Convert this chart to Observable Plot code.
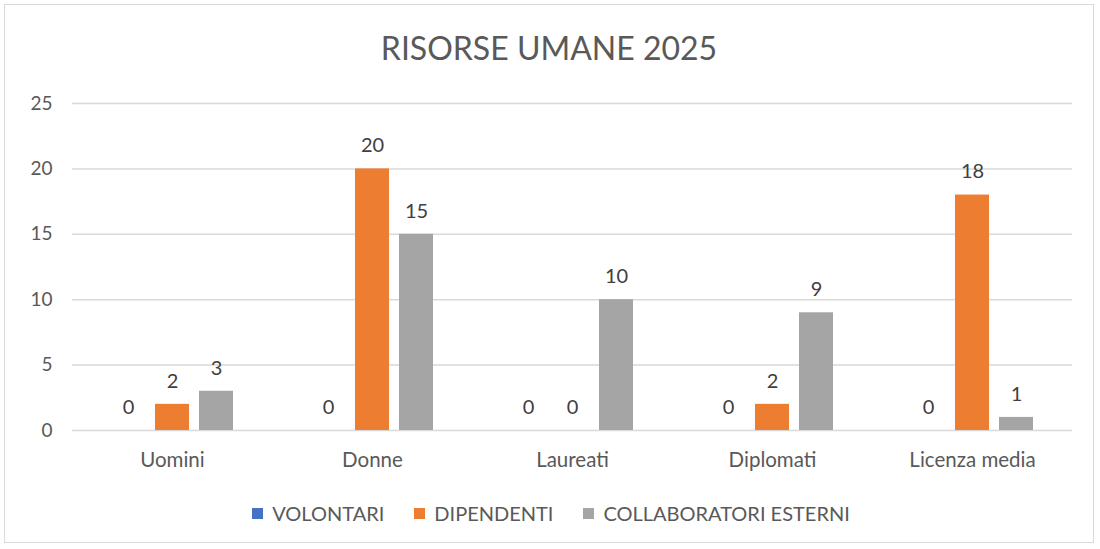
<!DOCTYPE html>
<html>
<head>
<meta charset="utf-8">
<script src="https://cdn.jsdelivr.net/npm/d3@7"></script>
<script src="https://cdn.jsdelivr.net/npm/@observablehq/plot@0.6"></script>
<style>
  html, body { margin: 0; padding: 0; background: #fff; }
  body { font-family: Lato, "Open Sans", sans-serif; }
  #wrap { position: relative; margin: 4px 0 0 4px; width: 1090px; height: 539px; border: 1px solid #d9d9d9; box-sizing: border-box; overflow: hidden; }
  #title { height: 79px; line-height: 86px; text-align: center; font-size: 32px; color: #595959; }
  #chart svg { display: block; }
  #legend { display: flex; justify-content: center; gap: 30px; font-size: 20px; color: #595959; margin-top: 17px; margin-left: 4px; }
  #legend span.item { display: flex; align-items: center; gap: 9px; }
  #legend span.sw { width: 11px; height: 11px; display: inline-block; }
</style>
</head>
<body>
<div id="wrap">
  <div id="title">RISORSE UMANE 2025</div>
  <div id="chart"></div>
  <div id="legend"></div>
</div>
<script>
const categories = ["Uomini", "Donne", "Laureati", "Diplomati", "Licenza media"];
const seriesNames = ["VOLONTARI", "DIPENDENTI", "COLLABORATORI ESTERNI"];
const volontari = [0, 0, 0, 0, 0];
const dipendenti = [2, 20, 0, 2, 18];
const collaboratori = [3, 15, 10, 9, 1];
const colors = ["#4472C4", "#ED7D31", "#A5A5A5"];
const yTicks = [0, 5, 10, 15, 20, 25];

const seriesValues = [volontari, dipendenti, collaboratori];
const data = [];
categories.forEach((c, i) => {
  seriesNames.forEach((s, j) => data.push({category: c, series: s, value: seriesValues[j][i]}));
});

const plot = Plot.plot({
  width: 1088,
  height: 400,
  marginTop: 19,
  marginBottom: 54,
  marginLeft: 65,
  marginRight: 20,
  style: {fontFamily: "Lato, 'Open Sans', sans-serif", fontSize: "19px", color: "#595959", background: "#fff"},
  fx: {domain: categories, paddingInner: 0, paddingOuter: 0, label: null},
  x: {domain: seriesNames, paddingInner: 0.222, paddingOuter: 0.84, axis: null},
  y: {domain: [0, 25], ticks: yTicks, label: null},
  color: {domain: seriesNames, range: colors},
  marks: [
    Plot.gridY(yTicks, {stroke: "#d9d9d9", strokeOpacity: 1, strokeWidth: 1.5}),
    Plot.axisY(yTicks, {tickSize: 0, tickPadding: 20, fontSize: 19, fill: "#595959", label: null}),
    Plot.axisFx({anchor: "bottom", tickSize: 0, tickPadding: 22, fontSize: 20.5, fill: "#595959", label: null}),
    Plot.barY(data, {fx: "category", x: "series", y: "value", fill: "series"}),
    Plot.text(data, {fx: "category", x: "series", y: "value", text: d => String(d.value), dy: -23, fontSize: 20, fill: "#404040"})
  ]
});
document.getElementById("chart").appendChild(plot);

const legend = document.getElementById("legend");
seriesNames.forEach((s, j) => {
  const item = document.createElement("span");
  item.className = "item";
  const sw = document.createElement("span");
  sw.className = "sw";
  sw.style.background = colors[j];
  item.appendChild(sw);
  item.appendChild(document.createTextNode(s));
  legend.appendChild(item);
});
</script>
</body>
</html>
